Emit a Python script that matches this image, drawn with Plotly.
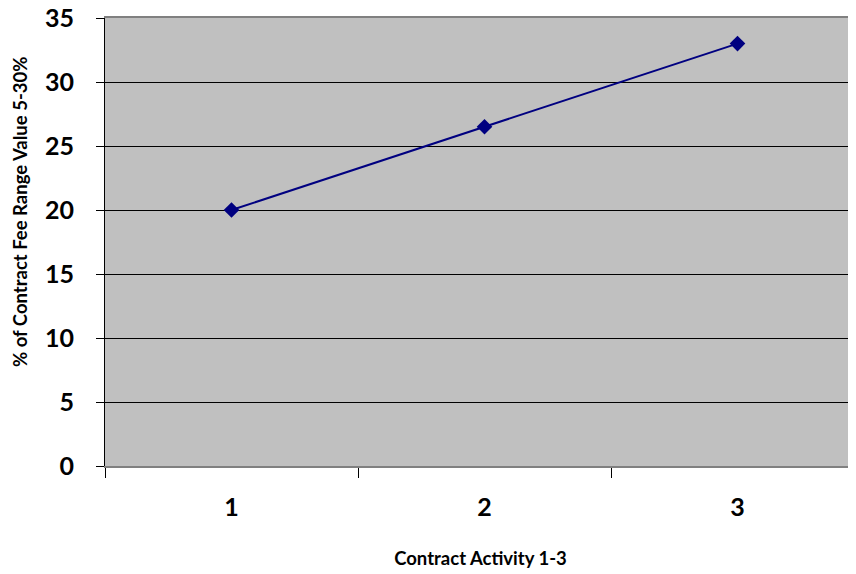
import plotly.graph_objects as go

categories = ["1", "2", "3"]
values = [20, 26.5, 33]
y_ticks = [0, 5, 10, 15, 20, 25, 30, 35]

FONT = "Lato"

fig = go.Figure()
fig.add_trace(go.Scatter(
    x=categories, y=values, mode="lines+markers",
    line=dict(color="#000080", width=2),
    marker=dict(symbol="diamond", size=12, color="#000080"),
    showlegend=False,
))

fig.update_layout(
    width=848, height=566,
    margin=dict(l=97, r=0, t=10, b=108),
    paper_bgcolor="white",
    plot_bgcolor="#C0C0C0",
    font=dict(family=FONT, color="black"),
    xaxis=dict(
        type="category",
        automargin=False,
        range=[-0.5, -0.5 + (848 - 97) / 253],
        tickson="boundaries",
        ticks="outside", ticklen=10, tickcolor="black",
        showgrid=False,
        showline=True, linecolor="#808080", linewidth=2, mirror=True,
        tickfont=dict(size=25, family=FONT, weight="bold"),
        ticklabelstandoff=18,
        ticklabeloverflow="allow",
        title=dict(text="<b>Contract Activity 1-3</b>", font=dict(size=18.5, family=FONT), standoff=32),
    ),
    yaxis=dict(
        automargin=False,
        range=[0, 35],
        tickvals=y_ticks,
        ticks="outside", ticklen=8, tickcolor="black",
        showgrid=True, gridcolor="black", gridwidth=1,
        showline=True, linecolor="black", linewidth=1,
        zeroline=False,
        tickfont=dict(size=25, family=FONT, weight="bold"),
        ticklabelstandoff=17,
        ticklabeloverflow="allow",
    ),
    annotations=[dict(
        text="<b>% of Contract Fee Range Value 5-30%</b>",
        textangle=-90, showarrow=False,
        xref="paper", yref="paper",
        x=-0.1132, y=0.567, xanchor="center", yanchor="middle",
        font=dict(size=18.5, family=FONT, color="black"),
    )],
)

fig.write_html("out.html")
